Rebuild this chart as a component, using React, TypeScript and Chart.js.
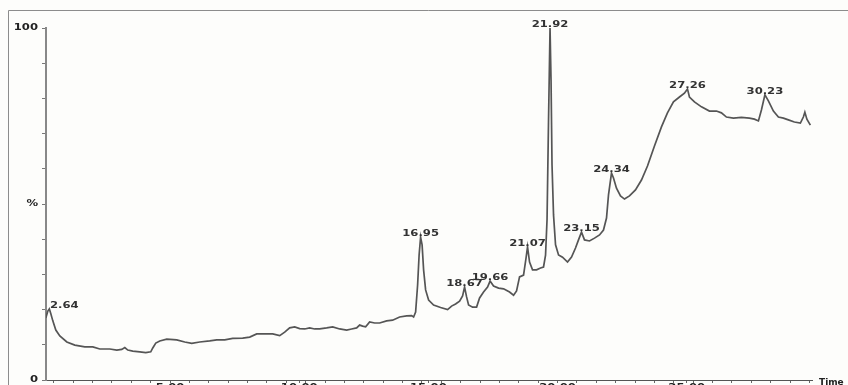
import React, { useEffect, useRef } from "react";
import { Chart, registerables } from "chart.js";

Chart.register(...registerables);

// Retention axis values (minutes, axis units) and relative abundance (%)
const times = [
  0.193, 0.271, 0.329, 0.387, 0.464, 0.58, 0.735, 1.006, 1.315, 1.702, 2.012, 2.282, 2.669, 2.94, 3.133,
  3.25, 3.366, 3.559, 3.83, 4.062, 4.255, 4.333, 4.449, 4.603, 4.874, 5.261, 5.571, 5.841, 6.151, 6.538,
  6.809, 7.118, 7.427, 7.814, 8.085, 8.356, 8.665, 8.975, 9.246, 9.439, 9.632, 9.826, 10.019, 10.213,
  10.406, 10.6, 10.793, 11.064, 11.296, 11.567, 11.838, 12.031, 12.224, 12.34, 12.456, 12.573, 12.727,
  12.921, 13.114, 13.385, 13.617, 13.888, 14.159, 14.352, 14.429, 14.507, 14.584, 14.642, 14.7, 14.758,
  14.816, 14.894, 15.01, 15.203, 15.474, 15.745, 15.899, 16.054, 16.209, 16.325, 16.402, 16.48, 16.557,
  16.712, 16.867, 16.983, 17.137, 17.292, 17.389, 17.524, 17.718, 17.911, 18.143, 18.298, 18.414, 18.53,
  18.685, 18.782, 18.839, 18.917, 19.033, 19.188, 19.342, 19.458, 19.536, 19.594, 19.652, 19.71, 19.749,
  19.787, 19.845, 19.923, 20.039, 20.193, 20.387, 20.542, 20.696, 20.812, 20.928, 21.044, 21.238, 21.431,
  21.625, 21.779, 21.896, 21.973, 22.089, 22.166, 22.282, 22.437, 22.592, 22.785, 23.017, 23.249, 23.482,
  23.752, 24.023, 24.255, 24.487, 24.72, 24.913, 25.029, 25.106, 25.3, 25.571, 25.88, 26.151, 26.344,
  26.538, 26.809, 27.118, 27.427, 27.621, 27.776, 27.892, 28.027, 28.162, 28.356, 28.549, 28.743, 28.936,
  29.168, 29.4, 29.516, 29.574, 29.652, 29.787,
];

const intensity = [
  17.6, 19.6, 20.2, 18.8, 16.8, 14.2, 12.5, 10.8, 9.9, 9.4, 9.4, 8.8, 8.8, 8.5, 8.7,
  9.2, 8.5, 8.2, 8.0, 7.8, 8.0, 9.1, 10.5, 11.1, 11.6, 11.4, 10.8, 10.4, 10.8, 11.1,
  11.4, 11.4, 11.8, 11.9, 12.2, 13.1, 13.1, 13.1, 12.6, 13.6, 14.8, 15.1, 14.6, 14.5,
  14.8, 14.5, 14.5, 14.8, 15.1, 14.5, 14.2, 14.5, 14.8, 15.6, 15.3, 15.1, 16.5,
  16.2, 16.2, 16.8, 17.0, 17.9, 18.2, 18.3, 17.9, 19.3, 27.0, 35.5, 40.6, 38.4,
  31.3, 25.6, 22.7, 21.3, 20.6, 20.0, 21.0, 21.6, 22.4, 23.9, 26.4, 23.6, 21.3,
  20.7, 20.7, 23.3, 25.0, 26.4, 28.1, 26.7, 26.1, 25.9, 25.0, 24.1, 25.3, 29.3,
  29.8, 34.7, 37.8, 33.5, 31.3, 31.3, 31.8, 32.1, 35.5, 45.5, 73.9, 100, 85.2,
  61.1, 46.9, 38.4, 35.5, 34.9, 33.5, 34.9, 37.5, 39.8, 42.0, 39.8, 39.5, 40.3,
  41.2, 42.6, 46.0, 52.6, 58.8, 57.4, 54.5, 52.3, 51.4, 52.3, 54.0, 56.8, 60.8,
  66.5, 71.9, 75.9, 79.0, 80.4, 81.5, 82.7, 80.4, 79.0, 77.6, 76.4, 76.4, 75.9,
  74.7, 74.4, 74.6, 74.4, 74.1, 73.6, 76.7, 81.0, 79.3, 76.4, 74.7, 74.4, 73.9,
  73.3, 73.0, 74.7, 76.1, 74.1, 72.4,
];

// Peak annotations (axis position of the apex, printed retention time)
const peakTimes = [0.329, 14.7, 16.402, 17.389, 18.839, 19.71, 20.928, 22.089, 25.029, 28.027];
const peakLabels = ["2.64", "16.95", "18.67", "19.66", "21.07", "21.92", "23.15", "24.34", "27.26", "30.23"];

// Axis labels
const xTickValues = [5, 10, 15, 20, 25];
const xTickTexts = ["5.00", "10.00", "15.00", "20.00", "25.00"];
const yTickValues = [0, 50, 100];
const yTickTexts = ["0", "%", "100"];
const xAxisTitle = "Time";

const X_MIN = 0.2;
const X_MAX = 29.85;
const MINOR_STEP = 0.75;

const W = 848;
const H = 400;
const FONT = 'bold 8px "DejaVu Sans"';
const STRETCH = 1.45;
const TEXT_COLOR = "#222222";
const BG = "#fdfdfb";

function drawStretched(
  ctx: CanvasRenderingContext2D,
  text: string,
  x: number,
  y: number,
  align: CanvasTextAlign,
  baseline: CanvasTextBaseline,
  sx: number
) {
  ctx.save();
  ctx.translate(x, y);
  ctx.scale(sx, 1);
  ctx.textAlign = align;
  ctx.textBaseline = baseline;
  ctx.fillText(text, 0, 0);
  ctx.restore();
}

const chromPlugin = {
  id: "chromText",
  beforeDraw(chart: any) {
    const ctx: CanvasRenderingContext2D = chart.ctx;
    ctx.save();
    ctx.fillStyle = BG;
    ctx.fillRect(0, 0, chart.width, chart.height);
    // frame (top + left)
    ctx.strokeStyle = "#8c8c8c";
    ctx.lineWidth = 1;
    ctx.beginPath();
    ctx.moveTo(8.5, chart.height);
    ctx.lineTo(8.5, 10.5);
    ctx.lineTo(chart.width, 10.5);
    ctx.stroke();
    ctx.restore();
  },
  afterDraw(chart: any) {
    const ctx: CanvasRenderingContext2D = chart.ctx;
    const area = chart.chartArea;
    const xs = chart.scales.x;
    const ys = chart.scales.y;
    ctx.save();
    ctx.font = FONT;
    ctx.fillStyle = TEXT_COLOR;

    // y labels
    yTickValues.forEach((v, i) => {
      drawStretched(ctx, yTickTexts[i], area.left - 8, ys.getPixelForValue(v), "right", "middle", STRETCH);
    });

    // x labels (mostly cut off by the frame edge, as in the original)
    xTickValues.forEach((v, i) => {
      drawStretched(ctx, xTickTexts[i], xs.getPixelForValue(v), area.bottom + 4, "center", "top", STRETCH);
    });

    // axis title
    ctx.font = 'bold 9px "DejaVu Sans"';
    drawStretched(ctx, xAxisTitle, area.right + 7, area.bottom - 2, "left", "top", 1.0);
    ctx.font = FONT;

    // peak labels
    ctx.fillStyle = "#333333";
    peakTimes.forEach((t, i) => {
      let best = 0;
      for (let k = 0; k < times.length; k++) {
        if (Math.abs(times[k] - t) < Math.abs(times[best] - t)) best = k;
      }
      const px = xs.getPixelForValue(times[best]);
      const py = ys.getPixelForValue(intensity[best]);
      const w = ctx.measureText(peakLabels[i]).width * STRETCH;
      let left = px - w / 2;
      if (left < area.left + 4) left = area.left + 4;
      drawStretched(ctx, peakLabels[i], left, py - 1, "left", "alphabetic", STRETCH);
    });
    ctx.restore();
  },
};

export default function App() {
  const ref = useRef<HTMLCanvasElement | null>(null);

  useEffect(() => {
    if (!ref.current) return;
    const tickList: number[] = [...xTickValues];
    for (let v = xTickValues[0]; v >= X_MIN; v -= MINOR_STEP) tickList.push(v);
    for (let v = xTickValues[0]; v <= X_MAX; v += MINOR_STEP) tickList.push(v);
    const uniq = Array.from(new Set(tickList.map((v) => Math.round(v * 1000) / 1000))).sort((a, b) => a - b);

    const chart = new Chart(ref.current, {
      type: "line",
      data: {
        datasets: [
          {
            data: times.map((t, i) => ({ x: t, y: intensity[i] })),
            borderColor: "#555555",
            borderWidth: 1.7,
            pointRadius: 0,
            tension: 0,
            fill: false,
          },
        ],
      },
      options: {
        responsive: false,
        animation: false,
        devicePixelRatio: 1,
        parsing: false as any,
        layout: { padding: { left: 0, right: 36, top: 28, bottom: 0 } },
        plugins: { legend: { display: false }, tooltip: { enabled: false } },
        scales: {
          x: {
            type: "linear",
            min: X_MIN,
            max: X_MAX,
            afterBuildTicks: (scale: any) => {
              scale.ticks = uniq.map((v) => ({ value: v }));
            },
            afterFit: (scale: any) => {
              scale.height = 20;
            },
            ticks: { display: false, autoSkip: false },
            grid: { drawOnChartArea: false, drawTicks: true, tickLength: 3, color: "#666", lineWidth: 1 },
            border: { display: true, color: "#555", width: 1 },
          },
          y: {
            type: "linear",
            min: 0,
            max: 100,
            ticks: { display: false, stepSize: 10 },
            afterFit: (scale: any) => {
              scale.width = 46;
            },
            grid: { drawOnChartArea: false, drawTicks: true, tickLength: 4, color: "#777", lineWidth: 1 },
            border: { display: true, color: "#888", width: 2 },
          },
        },
      },
      plugins: [chromPlugin],
    });
    return () => chart.destroy();
  }, []);

  return (
    <div
      style={{
        position: "fixed",
        left: 0,
        top: 0,
        width: W,
        height: 385,
        overflow: "hidden",
        background: BG,
      }}
    >
      <canvas ref={ref} width={W} height={H} style={{ display: "block", width: W, height: H }} />
    </div>
  );
}
